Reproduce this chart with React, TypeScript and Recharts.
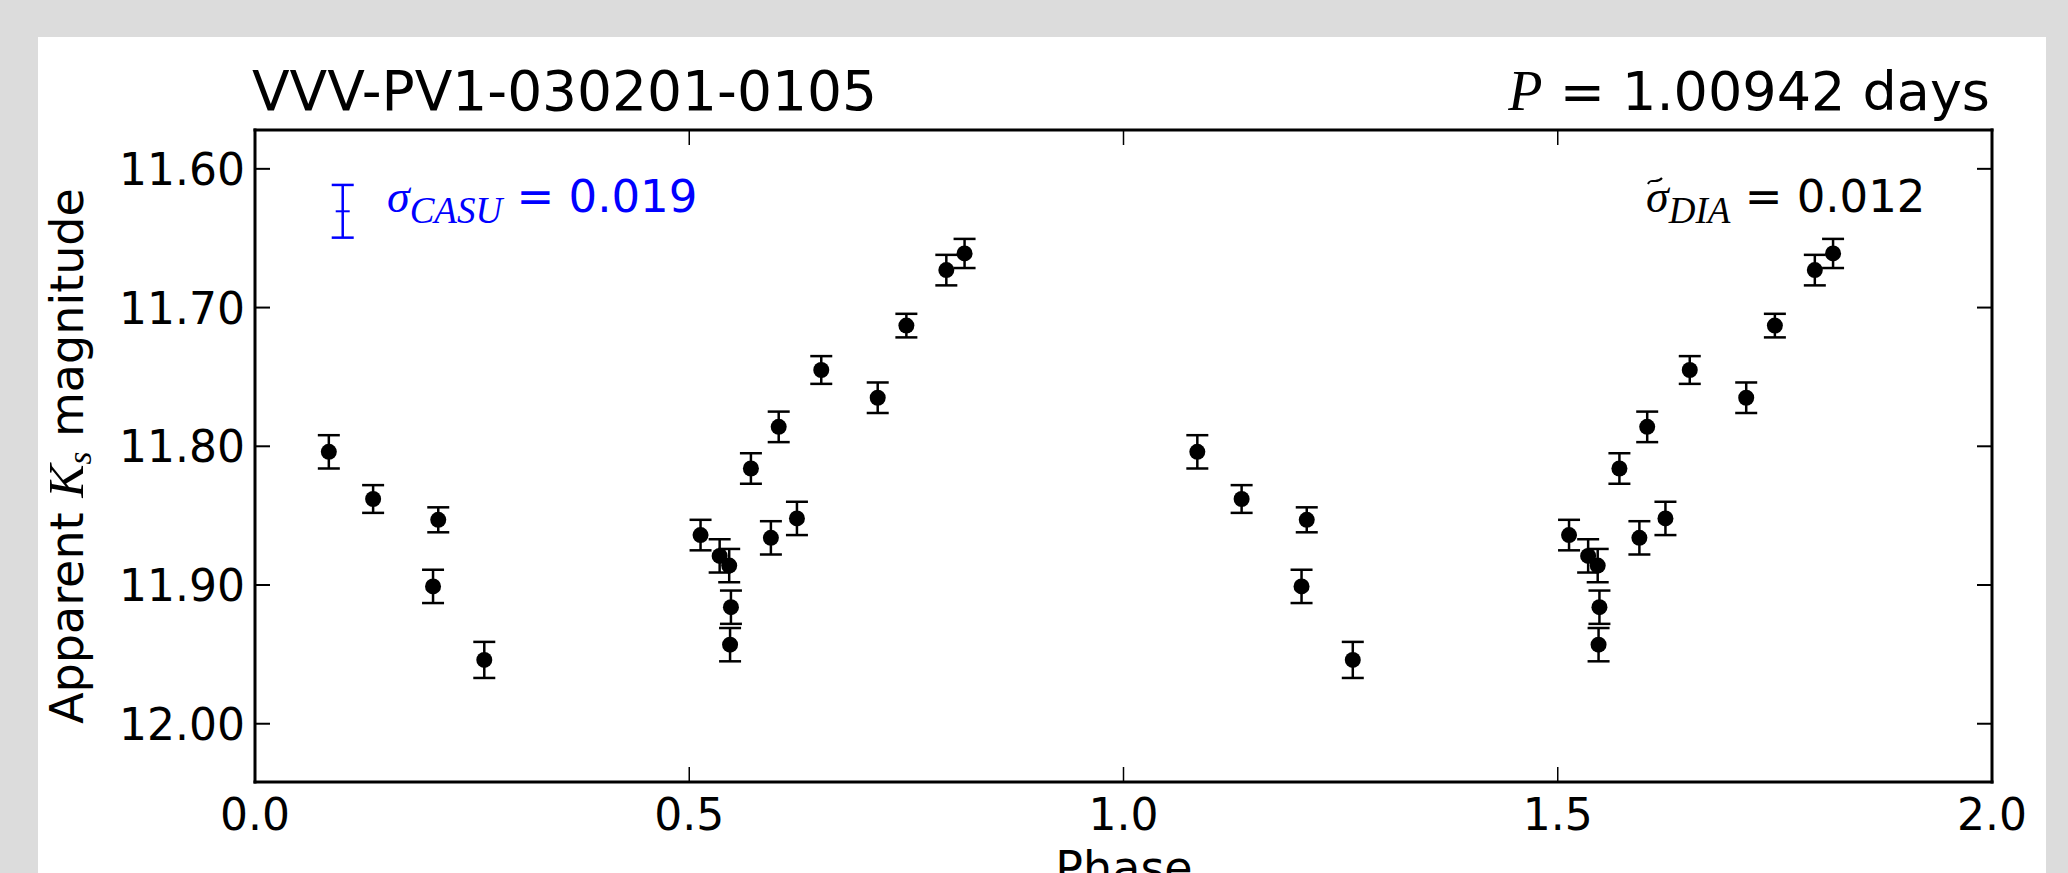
import React from "react";
import { ScatterChart, Scatter, XAxis, YAxis, ErrorBar } from "recharts";

// folded light curve, one cycle (plotted twice)
const phase = [0.085, 0.136, 0.205, 0.211, 0.264, 0.513, 0.535, 0.546, 0.548, 0.547, 0.571, 0.594, 0.603, 0.624, 0.652, 0.717, 0.750, 0.796, 0.817];
const mag = [11.804, 11.838, 11.901, 11.853, 11.954, 11.864, 11.879, 11.886, 11.916, 11.943, 11.816, 11.866, 11.786, 11.852, 11.745, 11.765, 11.713, 11.673, 11.661];
const magErr = [0.012, 0.010, 0.012, 0.009, 0.013, 0.011, 0.012, 0.012, 0.012, 0.012, 0.011, 0.012, 0.011, 0.012, 0.010, 0.011, 0.0085, 0.011, 0.0105];
const cycles = [0, 1];

// typical CASU error shown in the corner
const casuPhase = [0.101];
const casuMag = [11.6306];
const casuSigma = [0.019];

const xTicks = [0, 0.5, 1, 1.5, 2];
const yTicks = [11.6, 11.7, 11.8, 11.9, 12.0];

const data = cycles.flatMap((c) =>
  phase.map((p, i) => ({ phase: p + c, mag: mag[i], err: magErr[i] }))
);
const casuData = casuPhase.map((p, i) => ({ phase: p, mag: casuMag[i], err: casuSigma[i] }));

const W = 2068;
const H = 873;
const sans = "DejaVu Sans";
const serif = "Liberation Serif";
const TICK = 15;

const Dot = (props: any) => <circle cx={props.cx} cy={props.cy} r={8} fill="#000" />;
const Dash = (props: any) => (
  <line x1={props.cx - 7} x2={props.cx + 7} y1={props.cy} y2={props.cy} stroke="#0000ff" strokeWidth={2} />
);

// ticks point into the frame, like matplotlib's old default
const BottomTick = (p: any) => (
  <g>
    <line x1={p.x} x2={p.x} y1={p.y} y2={p.y - TICK} stroke="#000" strokeWidth={1.5} />
    <text x={p.x} y={p.y + 48} textAnchor="middle" fontSize={44} fontFamily={sans} fill="#000">
      {Number(p.payload.value).toFixed(1)}
    </text>
  </g>
);
const TopTick = (p: any) => (
  <line x1={p.x} x2={p.x} y1={p.y} y2={p.y + TICK} stroke="#000" strokeWidth={1.5} />
);
const LeftTick = (p: any) => (
  <g>
    <line x1={p.x} x2={p.x + TICK} y1={p.y} y2={p.y} stroke="#000" strokeWidth={2} />
    <text x={p.x - 10} y={p.y + 16} textAnchor="end" fontSize={44} fontFamily={sans} fill="#000">
      {Number(p.payload.value).toFixed(2)}
    </text>
  </g>
);
const RightTick = (p: any) => (
  <line x1={p.x} x2={p.x - TICK} y1={p.y} y2={p.y} stroke="#000" strokeWidth={2} />
);

const frame = { stroke: "#000", strokeWidth: 3, strokeLinecap: "square" as const };

export default function App() {
  return (
    <div style={{ position: "absolute", left: 0, top: 0, width: W, height: H, background: "#dcdcdc", overflow: "hidden" }}>
      <div style={{ position: "absolute", left: 38, top: 37, width: 2008, height: H - 37, background: "#fff" }} />
      <div style={{ position: "absolute", left: 0, top: 0 }}>
        <ScatterChart width={W} height={H} margin={{ top: 129, right: 75, bottom: 31, left: 105 }}>
          <XAxis
            xAxisId="b"
            dataKey="phase"
            type="number"
            domain={[0, 2]}
            ticks={xTicks}
            interval={0}
            allowDataOverflow
            height={60}
            tickSize={0}
            tickMargin={0}
            tick={BottomTick}
            tickLine={false}
            axisLine={frame}
          />
          <XAxis
            xAxisId="t"
            orientation="top"
            dataKey="phase"
            type="number"
            domain={[0, 2]}
            ticks={xTicks}
            interval={0}
            allowDataOverflow
            height={1}
            tickSize={0}
            tickMargin={0}
            tick={TopTick}
            tickLine={false}
            axisLine={frame}
          />
          <YAxis
            yAxisId="l"
            dataKey="mag"
            type="number"
            reversed
            domain={[11.572, 12.042]}
            ticks={yTicks}
            interval={0}
            allowDataOverflow
            width={150}
            tickSize={0}
            tickMargin={0}
            tick={LeftTick}
            tickLine={false}
            axisLine={frame}
          />
          <YAxis
            yAxisId="r"
            orientation="right"
            dataKey="mag"
            type="number"
            reversed
            domain={[11.572, 12.042]}
            ticks={yTicks}
            interval={0}
            allowDataOverflow
            width={1}
            tickSize={0}
            tickMargin={0}
            tick={RightTick}
            tickLine={false}
            axisLine={frame}
          />
          <Scatter data={casuData} xAxisId="b" yAxisId="l" shape={Dash} isAnimationActive={false}>
            <ErrorBar dataKey="err" direction="y" width={11} stroke="#0000ff" strokeWidth={2.5} isAnimationActive={false} />
          </Scatter>
          <Scatter data={data} xAxisId="b" yAxisId="l" shape={Dot} isAnimationActive={false}>
            <ErrorBar dataKey="err" direction="y" width={11} stroke="#000" strokeWidth={2.5} isAnimationActive={false} />
          </Scatter>
        </ScatterChart>
      </div>
      <svg width={W} height={H} style={{ position: "absolute", left: 0, top: 0, pointerEvents: "none" }}>
        <text x={252} y={110} fontSize={55} fontFamily={sans} fill="#000">VVV-PV1-030201-0105</text>
        <text x={1990} y={110} textAnchor="end" fontSize={54} fontFamily={sans} fill="#000">
          <tspan fontFamily={serif} fontStyle="italic" fontSize={56}>P</tspan>
          <tspan> = 1.00942 days</tspan>
        </text>
        <text x={387} y={212} fontSize={45} fontFamily={sans} fill="#0000ff">
          <tspan fontFamily={serif} fontStyle="italic" fontSize={46}>σ</tspan>
          <tspan fontFamily={serif} fontStyle="italic" fontSize={37} dy={11}>CASU</tspan>
          <tspan dy={-11}> = 0.019</tspan>
        </text>
        {/* tilde accent over the DIA sigma */}
        <path d="M1648 184 C1651 177, 1656 185, 1662 178" fill="none" stroke="#000" strokeWidth={2} />
        <text x={1646} y={212} fontSize={45} fontFamily={sans} fill="#000">
          <tspan fontFamily={serif} fontStyle="italic" fontSize={46}>σ</tspan>
          <tspan fontFamily={serif} fontStyle="italic" fontSize={37} dy={11}>DIA</tspan>
          <tspan dy={-11}> = 0.012</tspan>
        </text>
        <text transform="rotate(-90)" x={-456} y={83} textAnchor="middle" fontSize={46} fontFamily={sans} fill="#000">
          Apparent{" "}
          <tspan fontFamily={serif} fontStyle="italic" fontSize={50}>K</tspan>
          <tspan fontFamily={serif} fontStyle="italic" fontSize={33} dy={8}>s</tspan>
          <tspan dy={-8}>{"  magnitude"}</tspan>
        </text>
        <text x={1124} y={884} textAnchor="middle" fontSize={46} fontFamily={sans} fill="#000">Phase</text>
      </svg>
    </div>
  );
}
